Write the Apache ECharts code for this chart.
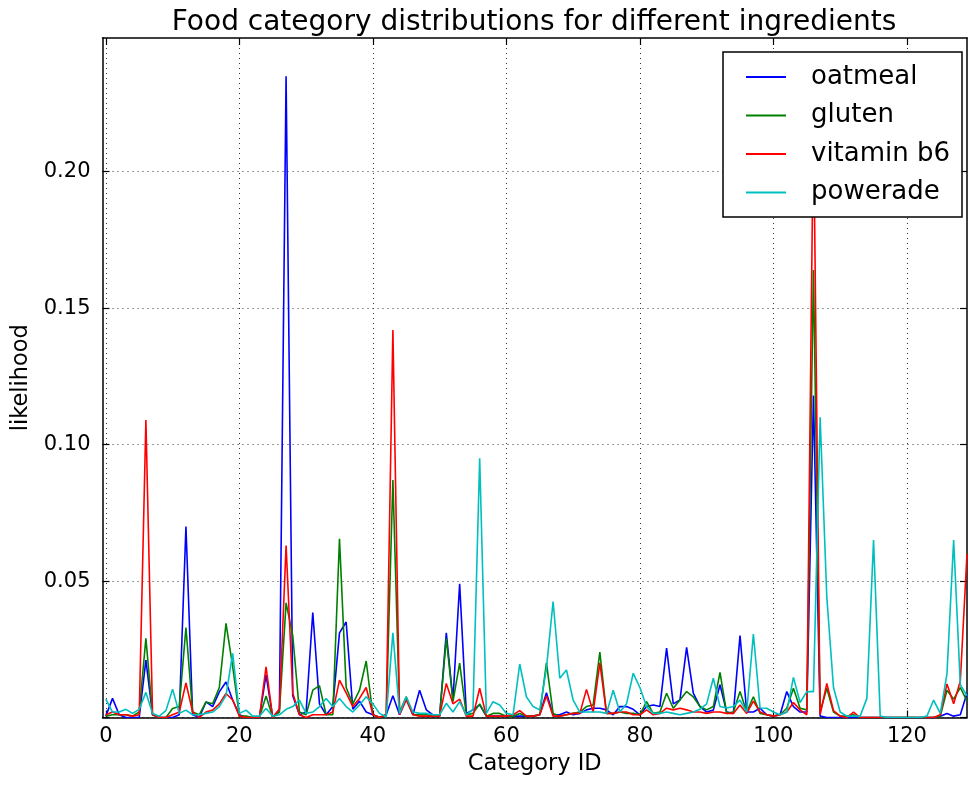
<!DOCTYPE html>
<html>
<head>
<meta charset="utf-8">
<script src="https://cdn.jsdelivr.net/npm/echarts@6/dist/echarts.min.js"></script>
<style>
  html, body { margin: 0; padding: 0; background: #ffffff; }
  #chart { width: 969px; height: 785px; }
</style>
</head>
<body>
<div id="chart"></div>
<script>
// Likelihood of each food category (index = category ID) per ingredient
const oatmeal = [
  0.0005, 0.007, 0.001, 0, 0, 0, 0.021, 0.001, 0, 0,
  0, 0.001, 0.070, 0.001, 0, 0.0057, 0.004, 0.0094, 0.013, 0.0064,
  0.001, 0, 0, 0, 0.0156, 0, 0.003, 0.235, 0.008, 0.001,
  0.002, 0.0385, 0.005, 0.001, 0.004, 0.031, 0.035, 0.003, 0.006, 0.002,
  0.001, 0, 0.001, 0.008, 0.001, 0.007, 0.001, 0.010, 0.0028, 0.001,
  0.0005, 0.031, 0.0064, 0.049, 0.0015, 0.0028, 0.0046, 0.0005, 0.0005, 0.0005,
  0.0005, 0.0005, 0.0005, 0.0005, 0.0005, 0.001, 0.0091, 0.001, 0.001, 0.002,
  0.001, 0.0015, 0.0028, 0.0034, 0.0034, 0.0028, 0.001, 0.004, 0.004, 0.003,
  0.001, 0.004, 0.0046, 0.004, 0.0254, 0.005, 0.0064, 0.0257, 0.0089, 0.004,
  0.002, 0.0027, 0.012, 0.002, 0.0015, 0.030, 0.002, 0.002, 0.0034, 0.001,
  0.0005, 0.001, 0.0095, 0.004, 0.002, 0.002, 0.118, 0.0005, 0, 0,
  0, 0, 0, 0, 0, 0, 0, 0, 0, 0,
  0, 0, 0, 0, 0, 0.0005, 0.0015, 0.0005, 0.001, 0.009
];
const gluten = [
  0.0005, 0.001, 0.001, 0.001, 0.0005, 0.002, 0.029, 0.001, 0, 0,
  0.0033, 0.004, 0.033, 0.002, 0.001, 0.0057, 0.005, 0.011, 0.0345, 0.0187,
  0.0005, 0.0005, 0, 0, 0.0079, 0, 0.002, 0.042, 0.030, 0.002,
  0.001, 0.010, 0.0117, 0.001, 0.001, 0.0655, 0.011, 0.005, 0.010, 0.0207,
  0.001, 0, 0.001, 0.087, 0.002, 0.0076, 0.001, 0.001, 0.001, 0.0005,
  0.0005, 0.029, 0.0058, 0.0199, 0.001, 0.0015, 0.005, 0.0005, 0.0015, 0.0015,
  0.0005, 0.0005, 0.0015, 0.0005, 0.0005, 0.001, 0.020, 0.0015, 0.0005, 0.001,
  0.0015, 0.002, 0.004, 0.0046, 0.024, 0.0015, 0.0015, 0.002, 0.0015, 0.0015,
  0.001, 0.0058, 0.0015, 0.002, 0.0089, 0.0034, 0.0064, 0.0095, 0.0076, 0.004,
  0.0028, 0.004, 0.0165, 0.0015, 0.002, 0.0095, 0.002, 0.0076, 0.0015, 0.001,
  0.0005, 0.001, 0.0034, 0.0107, 0.0034, 0.0028, 0.164, 0.002, 0.0107, 0.002,
  0.0005, 0.0005, 0.001, 0, 0, 0, 0, 0, 0, 0,
  0, 0, 0, 0, 0, 0.0005, 0.010, 0.0067, 0.011, 0.006
];
const vitaminB6 = [
  0.001, 0.002, 0.001, 0.001, 0.0005, 0.001, 0.109, 0.001, 0, 0,
  0.001, 0.002, 0.0127, 0.002, 0, 0.002, 0.0027, 0.005, 0.0088, 0.0064,
  0.0005, 0, 0, 0, 0.0186, 0, 0.003, 0.063, 0.009, 0.001,
  0, 0.001, 0.001, 0.001, 0.002, 0.0137, 0.009, 0.004, 0.007, 0.011,
  0.001, 0, 0.001, 0.142, 0.001, 0.0064, 0.001, 0.0005, 0.0005, 0.0005,
  0.0005, 0.0125, 0.005, 0.0067, 0.0005, 0.0005, 0.0107, 0.0005, 0.0005, 0.0005,
  0.0005, 0.001, 0.0025, 0.0005, 0.0005, 0.001, 0.0079, 0.0005, 0.0005, 0.001,
  0.0015, 0.0015, 0.0103, 0.002, 0.020, 0.0015, 0.0015, 0.002, 0.002, 0.001,
  0.001, 0.0028, 0.001, 0.0015, 0.0034, 0.0028, 0.0034, 0.0028, 0.002, 0.002,
  0.0015, 0.002, 0.002, 0.0015, 0.0015, 0.0046, 0.0015, 0.006, 0.002, 0.001,
  0.0005, 0.001, 0.002, 0.0055, 0.0028, 0.001, 0.22, 0.001, 0.0125, 0.0025,
  0.0005, 0, 0.002, 0, 0, 0, 0, 0, 0, 0,
  0, 0, 0, 0, 0, 0.001, 0.0123, 0.005, 0.0134, 0.06
];
const powerade = [
  0.0067, 0.002, 0.002, 0.003, 0.0015, 0.003, 0.0092, 0.0015, 0.0005, 0.0025,
  0.0104, 0.0015, 0.0027, 0.001, 0.001, 0.0015, 0.002, 0.004, 0.008, 0.0235,
  0.0015, 0.0027, 0.0005, 0.0005, 0.0033, 0.0005, 0.001, 0.003, 0.004, 0.0064,
  0.0015, 0.002, 0.004, 0.007, 0.004, 0.007, 0.004, 0.002, 0.0046, 0.0076,
  0.005, 0.0015, 0.0003, 0.031, 0.0015, 0.0076, 0.002, 0.0015, 0.0015, 0.001,
  0.001, 0.0052, 0.002, 0.0058, 0.001, 0.003, 0.095, 0.0015, 0.0058, 0.0046,
  0.0015, 0.001, 0.0196, 0.0076, 0.004, 0.0028, 0.018, 0.0425, 0.0144, 0.0174,
  0.0064, 0.002, 0.002, 0.002, 0.002, 0.0015, 0.010, 0.002, 0.005, 0.0162,
  0.011, 0.004, 0.0015, 0.0015, 0.002, 0.0015, 0.001, 0.0015, 0.002, 0.003,
  0.005, 0.0144, 0.004, 0.0035, 0.004, 0.0064, 0.002, 0.0306, 0.0035, 0.0034,
  0.002, 0.001, 0.002, 0.0147, 0.0055, 0.0095, 0.0095, 0.110, 0.044, 0.011,
  0.002, 0.0005, 0.0005, 0.0005, 0.007, 0.065, 0.0005, 0, 0, 0,
  0, 0, 0, 0.0005, 0.0064, 0.0015, 0.016, 0.065, 0.012, 0.008
];

const seriesNames = ['oatmeal', 'gluten', 'vitamin b6', 'powerade'];
const seriesColors = ['#0000ff', '#008000', '#ff0000', '#00bfbf'];
const xTickValues = [0, 20, 40, 60, 80, 100, 120];
const yTickValues = [0, 0.05, 0.10, 0.15, 0.20];
const yLabelValues = [0.05, 0.10, 0.15, 0.20];

const FONT = 'DejaVu Sans';
const toPairs = arr => arr.map((v, i) => [i, v]);

const chart = echarts.init(document.getElementById('chart'), null, { renderer: 'canvas' });

const gridLine = { show: true, lineStyle: { color: '#333', width: 1, type: [1, 4] } };
const spine = { show: true, onZero: false, lineStyle: { color: '#000', width: 1.5 } };
const tickStyle = { color: '#000', width: 1.2 };

const option = {
  animation: false,
  backgroundColor: '#ffffff',
  title: {
    text: 'Food category distributions for different ingredients',
    left: 529, top: 4, textAlign: 'center',
    textStyle: { fontFamily: FONT, fontSize: 28, fontWeight: 'normal', color: '#000' }
  },
  grid: { left: 102.5, right: 2, top: 38, bottom: 67.5, containLabel: false },
  xAxis: [{
    type: 'value', min: -0.5, max: 129,
    name: 'Category ID', nameLocation: 'middle', nameGap: 34,
    nameTextStyle: { fontFamily: FONT, fontSize: 22.5, color: '#000' },
    axisLine: spine,
    axisTick: { show: true, inside: true, length: 7, customValues: xTickValues, lineStyle: tickStyle },
    axisLabel: { customValues: xTickValues, margin: 9, fontFamily: FONT, fontSize: 21, color: '#000' },
    splitLine: gridLine
  }, {
    type: 'value', min: -0.5, max: 129, position: 'top',
    axisLine: spine,
    axisTick: { show: true, inside: true, length: 7, customValues: xTickValues, lineStyle: tickStyle },
    axisLabel: { show: false }, splitLine: { show: false }
  }],
  yAxis: [{
    type: 'value', min: 0, max: 0.249,
    name: 'likelihood', nameLocation: 'middle', nameGap: 66, nameRotate: 90,
    nameTextStyle: { fontFamily: FONT, fontSize: 22.5, color: '#000' },
    axisLine: spine,
    axisTick: { show: true, inside: true, length: 7, customValues: yTickValues, lineStyle: tickStyle },
    axisLabel: {
      customValues: yLabelValues, margin: 12, fontFamily: FONT, fontSize: 21, color: '#000',
      formatter: v => v.toFixed(2)
    },
    splitLine: gridLine
  }, {
    type: 'value', min: 0, max: 0.249, position: 'right',
    axisLine: spine,
    axisTick: { show: true, inside: true, length: 7, customValues: yTickValues, lineStyle: tickStyle },
    axisLabel: { show: false }, splitLine: { show: false }
  }],
  legend: {
    orient: 'vertical', left: 741, top: 58, z: 200,
    icon: 'rect', itemWidth: 40, itemHeight: 1.8, itemGap: 10.5,
    data: seriesNames,
    textStyle: { fontFamily: FONT, fontSize: 26, color: '#000', lineHeight: 28, padding: [0, 0, 0, 20] }
  },
  graphic: [{
    type: 'rect', z: 100,
    shape: { x: 723, y: 52, width: 239, height: 165 },
    style: { fill: '#ffffff', stroke: '#000', lineWidth: 1.5 }
  }],
  series: [oatmeal, gluten, vitaminB6, powerade].map((arr, k) => ({
    name: seriesNames[k], type: 'line', data: toPairs(arr),
    xAxisIndex: 0, yAxisIndex: 0,
    symbol: 'none', smooth: false, clip: true,
    lineStyle: { color: seriesColors[k], width: 1.6 },
    itemStyle: { color: seriesColors[k] }
  }))
};

chart.setOption(option);
</script>
</body>
</html>
